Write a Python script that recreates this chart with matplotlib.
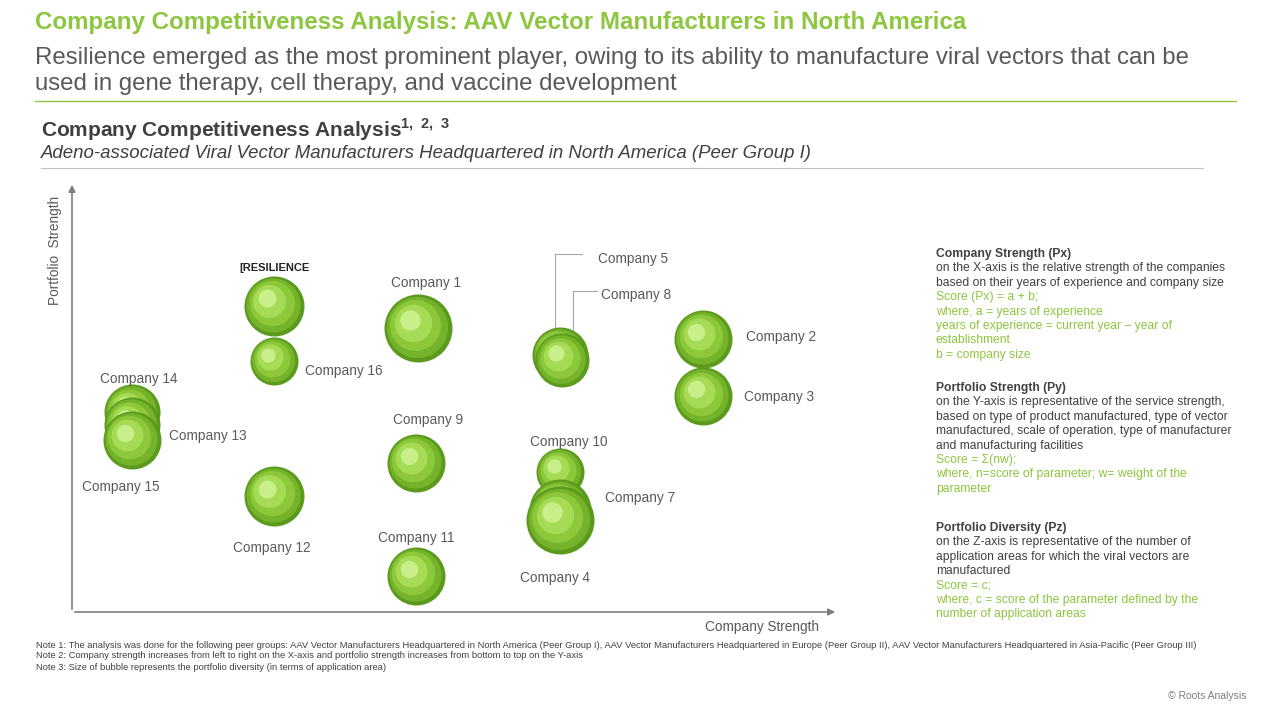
import matplotlib
matplotlib.use("Agg")
import matplotlib.pyplot as plt
import numpy as np

plt.rcParams['font.family'] = ['Liberation Sans', 'DejaVu Sans']
plt.rcParams['mathtext.fontset'] = 'custom'
plt.rcParams['mathtext.bf'] = 'Liberation Sans:bold'

companies = ["Resilience", "Company 16", "Company 1", "Company 5", "Company 8", "Company 2",
             "Company 3", "Company 14", "Company 13", "Company 15", "Company 9", "Company 12",
             "Company 10", "Company 7", "Company 4", "Company 11"]
company_strength = [2.64, 2.64, 4.52, 6.37, 6.40, 8.24, 8.24, 0.78, 0.78, 0.78, 4.49, 2.64, 6.37, 6.37, 6.37, 4.49]
portfolio_strength = [7.12, 5.84, 6.60, 5.98, 5.86, 6.35, 5.02, 4.65, 4.35, 4.00, 3.47, 2.70, 3.26, 2.37, 2.14, 0.84]
portfolio_diversity = [30, 24, 34, 28, 27, 29, 29, 28, 28, 29, 29, 30, 24, 31, 34, 29]

label_pos = {
    "Company 16": (305, 371, "left"), "Company 1": (426, 283, "center"),
    "Company 5": (598, 259, "left"), "Company 8": (601, 295, "left"),
    "Company 2": (746, 337, "left"), "Company 3": (744, 397, "left"),
    "Company 14": (100, 379, "left"), "Company 13": (169, 436, "left"),
    "Company 15": (82, 487, "left"), "Company 9": (393, 420, "left"),
    "Company 12": (233, 548, "left"), "Company 10": (530, 442, "left"),
    "Company 7": (605, 498, "left"), "Company 4": (520, 578, "left"),
    "Company 11": (378, 538, "left"),
}

W, H = 1280, 720
fig = plt.figure(figsize=(12.8, 7.2), dpi=100)
fig.patch.set_facecolor("white")
def P(x, y):
    return (x / W, 1 - y / H)
def T(x, y, s, **kw):
    kw.setdefault("va", "center")
    fig.text(*P(x, y), s, **kw)

GREEN = "#8dc63f"
GREY = "#595959"
T(35, 22, "Company Competitiveness Analysis: AAV Vector Manufacturers in North America", color=GREEN, fontsize=17.4, fontweight="bold")
T(35, 58, "Resilience emerged as the most prominent player, owing to its ability to manufacture viral vectors that can be", color=GREY, fontsize=17.3)
T(35, 84, "used in gene therapy, cell therapy, and vaccine development", color=GREY, fontsize=17.3)
fig.add_artist(plt.Line2D([35/W, 1236/W], [1-101/H]*2, color=GREEN, lw=1))
T(41, 130, r"Company Competitiveness Analysis$^{\mathbf{1,\ 2,\ 3}}$", color="#404040", fontsize=15, fontweight="bold")
T(41, 153, "Adeno-associated Viral Vector Manufacturers Headquartered in North America (Peer Group I)", color="#404040", fontsize=13.4, style="italic")
fig.add_artist(plt.Line2D([41/W, 1203/W], [1-168/H]*2, color="#bfbfbf", lw=0.8))

ax = fig.add_axes([72/W, 1-612/H, (838-72)/W, (612-182)/H])
ax.set_xlim(0, 10); ax.set_ylim(0, 10)
ax.axis("off")
ax.set_zorder(2)
ax.annotate("", xy=(10, 0), xytext=(0, 0), arrowprops=dict(arrowstyle="-|>", color="#7f7f7f", lw=1.2), annotation_clip=False)
ax.annotate("", xy=(0, 10), xytext=(0, 0), arrowprops=dict(arrowstyle="-|>", color="#7f7f7f", lw=1.2), annotation_clip=False)

xs = np.array(company_strength); ys = np.array(portfolio_strength); r = np.array(portfolio_diversity)
for i in range(len(xs)):
    s0 = (1.44 * r[i]) ** 2
    ax.scatter(xs[i], ys[i], s=s0, color="#5c9a1e", zorder=3, linewidths=0)
    for f, c in [(0.9, "#74b32a"), (0.75, "#8cc83a"), (0.55, "#a6db55"), (0.3, "#c9ef8a")]:
        dx = -r[i] * (1 - f) * 0.35 * 10 / 766
        dy = r[i] * (1 - f) * 0.35 * 10 / 430
        ax.scatter(xs[i] + dx, ys[i] + dy, s=(1.44 * r[i] * f) ** 2, color=c, zorder=3, linewidths=0)

for name, (px, py, ha) in label_pos.items():
    T(px, py, name, color=GREY, fontsize=9.8, ha=ha)
T(274, 268, "[RESILIENCE", color="#222222", fontsize=8, fontweight="bold", ha="center")
for (x1, y1, x2, y2) in [(555, 254, 582, 254), (555, 254, 555, 340), (573, 291, 597, 291), (573, 291, 573, 345)]:
    fig.add_artist(plt.Line2D([x1/W, x2/W], [1-y1/H, 1-y2/H], color="#a6a6a6", lw=0.8))

T(762, 627, "Company Strength", color=GREY, fontsize=9.8, ha="center")
T(55, 250, "Portfolio  Strength", color=GREY, fontsize=9.8, ha="center", rotation=90)

rx = 936
blocks = [
    (254, "Company Strength (Px)", ["on the X-axis is the relative strength of the companies", "based on their years of experience and company size"],
     ["Score (Px) = a + b;", "where, a = years of experience", "years of experience = current year \u2013 year of", "establishment", "b = company size"]),
    (388, "Portfolio Strength (Py)", ["on the Y-axis is representative of the service strength,", "based on type of product manufactured, type of vector", "manufactured, scale of operation, type of manufacturer", "and manufacturing facilities"],
     ["Score = \u03a3(nw);", "where, n=score of parameter; w= weight of the", "parameter"]),
    (528, "Portfolio Diversity (Pz)", ["on the Z-axis is representative of the number of", "application areas for which the viral vectors are", "manufactured"],
     ["Score = c;", "where, c = score of the parameter defined by the", "number of application areas"]),
]
lh = 14.4
for y0, head, dark, green in blocks:
    T(rx, y0, head, color="#404040", fontsize=8.7, fontweight="bold")
    y = y0 + lh
    for l in dark:
        T(rx, y, l, color="#404040", fontsize=8.7); y += lh
    for l in green:
        T(rx, y, l, color=GREEN, fontsize=8.7); y += lh

notes = [
    "Note 1: The analysis was done for the following peer groups: AAV Vector Manufacturers Headquartered in North America (Peer Group I), AAV Vector Manufacturers Headquartered in Europe (Peer Group II), AAV Vector Manufacturers Headquartered in Asia-Pacific (Peer Group III)",
    "Note 2: Company strength increases from left to right on the X-axis and portfolio strength increases from bottom to top on the Y-axis",
    "Note 3: Size of bubble represents the portfolio diversity (in terms of application area)",
]
for k, n in enumerate(notes):
    T(36, 645 + 11 * k, n, color="#404040", fontsize=6.75)
T(1246, 696, "\u00a9 Roots Analysis", color="#7f7f7f", fontsize=7.5, ha="right")

fig.savefig("out.png", dpi=100)
